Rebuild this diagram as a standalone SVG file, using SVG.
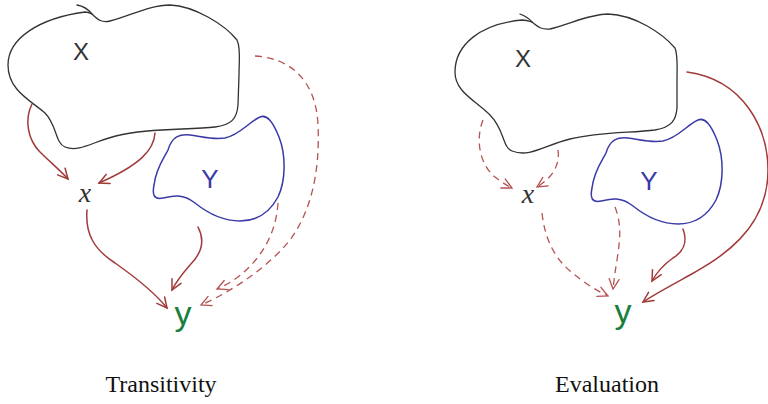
<svg xmlns="http://www.w3.org/2000/svg" width="768" height="404" viewBox="0 0 768 404">
<style>
.bx{fill:none;stroke:#333;stroke-width:1.3;stroke-linecap:round;stroke-linejoin:round}
.by{fill:none;stroke:#3a3aa8;stroke-width:1.5;stroke-linecap:round;stroke-linejoin:round}
.s{fill:none;stroke:#a23a3a;stroke-width:1.5;stroke-linecap:round;marker-end:url(#ah)}
.d{fill:none;stroke:#b65252;stroke-width:1.3;stroke-dasharray:7 5;marker-end:url(#ahd)}
.lx{font-family:"Liberation Sans",sans-serif;fill:#333;text-anchor:middle}
.ly{font-family:"Liberation Sans",sans-serif;fill:#3a3aa8;text-anchor:middle}
.lsx{font-family:"Liberation Serif",serif;font-style:italic;fill:#333;text-anchor:middle}
.lsy{font-family:"Liberation Sans",sans-serif;fill:#1a7f3c;text-anchor:middle}
.cap{font-family:"Liberation Serif",serif;font-size:24px;fill:#111;text-anchor:middle}
</style>
<defs>
<marker id="ah" viewBox="-12 -7 14 14" refX="0" refY="0" markerWidth="14" markerHeight="14" markerUnits="userSpaceOnUse" orient="auto">
<path d="M -10 -5 L 0 0 L -10 5" fill="none" stroke="#a23a3a" stroke-width="1.5" stroke-linecap="round"/>
</marker>
<marker id="ahd" viewBox="-12 -7 14 14" refX="0" refY="0" markerWidth="14" markerHeight="14" markerUnits="userSpaceOnUse" orient="auto">
<path d="M -10 -5 L 0 0 L -10 5" fill="none" stroke="#b65252" stroke-width="1.3" stroke-linecap="round"/>
</marker>
</defs>
<g id="left-X">
<path class="bx" d="M 92 14 C 98 20, 102 23, 110 21 C 130 16, 150 5, 170 5 C 195 6, 225 25, 237 40 C 241 48, 239 60, 239 75 L 238 105 C 237 118, 232 125, 215 127 C 190 130, 150 128, 120 135 C 95 140, 80 153, 65 147 C 55 143, 57 125, 45 113 C 30 100, 8 90, 8 65 C 8 38, 40 18, 85 12 C 88 12, 90 13, 92 14 Z"/>
<path class="bx" d="M 77 5 C 83 6, 88 9, 92 14" stroke-width="0.8"/>
<text class="lx" x="81" y="60" font-size="24">X</text>
</g>
<g id="left-Y">
<path class="by" d="M 190 135 C 180 134, 172 136, 168 150 C 164 158, 156 168, 154 185 C 152 195, 154 200, 163 198 C 172 196, 182 193, 195 203 C 210 215, 225 221, 240 221 C 258 221, 270 212, 278 197 C 286 180, 286 155, 279 137 C 273 122, 267 114, 260 117 C 250 121, 240 135, 225 138 C 212 140, 200 136, 190 135 Z"/>
<text class="ly" x="210" y="188" font-size="26">Y</text>
</g>
<g id="left-x"><text class="lsx" x="85" y="202" font-size="28">x</text></g>
<g id="left-y"><text class="lsy" x="183" y="325" font-size="34">y</text></g>
<g id="right-X">
<path class="bx" d="M 532 22 C 538 27, 542 30, 550 29 C 570 24, 590 14, 608 14 C 635 15, 662 33, 675 48 C 678 55, 677 65, 677 80 L 677 108 C 676 120, 672 127, 655 130 C 630 133, 600 132, 570 139 C 545 145, 530 158, 512 151 C 502 147, 505 130, 490 115 C 475 100, 455 92, 455 72 C 455 45, 480 24, 522 20 C 526 20, 529 21, 532 22 Z"/>
<path class="bx" d="M 520 14 C 525 16, 529 18, 532 22" stroke-width="0.8"/>
<text class="lx" x="523" y="67" font-size="24">X</text>
</g>
<g id="right-Y">
<path class="by" transform="translate(438,3)" d="M 190 135 C 180 134, 172 136, 168 150 C 164 158, 156 168, 154 185 C 152 195, 154 200, 163 198 C 172 196, 182 193, 195 203 C 210 215, 225 221, 240 221 C 258 221, 270 212, 278 197 C 286 180, 286 155, 279 137 C 273 122, 267 114, 260 117 C 250 121, 240 135, 225 138 C 212 140, 200 136, 190 135 Z"/>
<text class="ly" x="649" y="190" font-size="26">Y</text>
</g>
<g id="right-x"><text class="lsx" x="528" y="203" font-size="28">x</text></g>
<g id="right-y"><text class="lsy" x="623" y="323" font-size="34">y</text></g>
<g id="connectors">
<path class="s" d="M 32 104 C 24 120, 28 140, 40 152 C 50 162, 60 170, 68 179"/>
<path class="s" d="M 155 133 C 154 150, 140 165, 99 183"/>
<path class="s" d="M 87 210 C 85 235, 95 250, 115 263 C 135 277, 155 293, 167 308"/>
<path class="s" d="M 198 227 C 206 242, 200 255, 190 265 C 183 273, 176 282, 172 290"/>
<path class="d" d="M 255 56 C 290 58, 316 80, 318 125 C 320 170, 312 210, 290 240 C 270 265, 235 290, 201 305"/>
<path class="d" d="M 278 203 C 276 235, 260 260, 238 277 C 230 283, 224 286, 217 289"/>
<path class="d" d="M 483 120 C 475 140, 480 165, 495 177 C 500 181, 506 185, 512 188"/>
<path class="d" d="M 558 150 C 560 165, 553 177, 537 187"/>
<path class="d" d="M 542 213 C 545 240, 555 260, 575 275 C 585 283, 597 291, 608 296"/>
<path class="d" d="M 615 207 C 622 225, 620 240, 617 260 C 615 272, 614 280, 613 289"/>
<path class="s" d="M 683 229 C 688 242, 683 252, 673 258 C 663 265, 657 272, 652 281"/>
<path class="s" d="M 687 72 C 745 80, 768 130, 768 170 C 768 230, 720 258, 690 275 C 670 286, 655 294, 643 302"/>
</g>
<g id="captions">
<text class="cap" x="161" y="392">Transitivity</text>
<text class="cap" x="607" y="392">Evaluation</text>
</g>
</svg>
